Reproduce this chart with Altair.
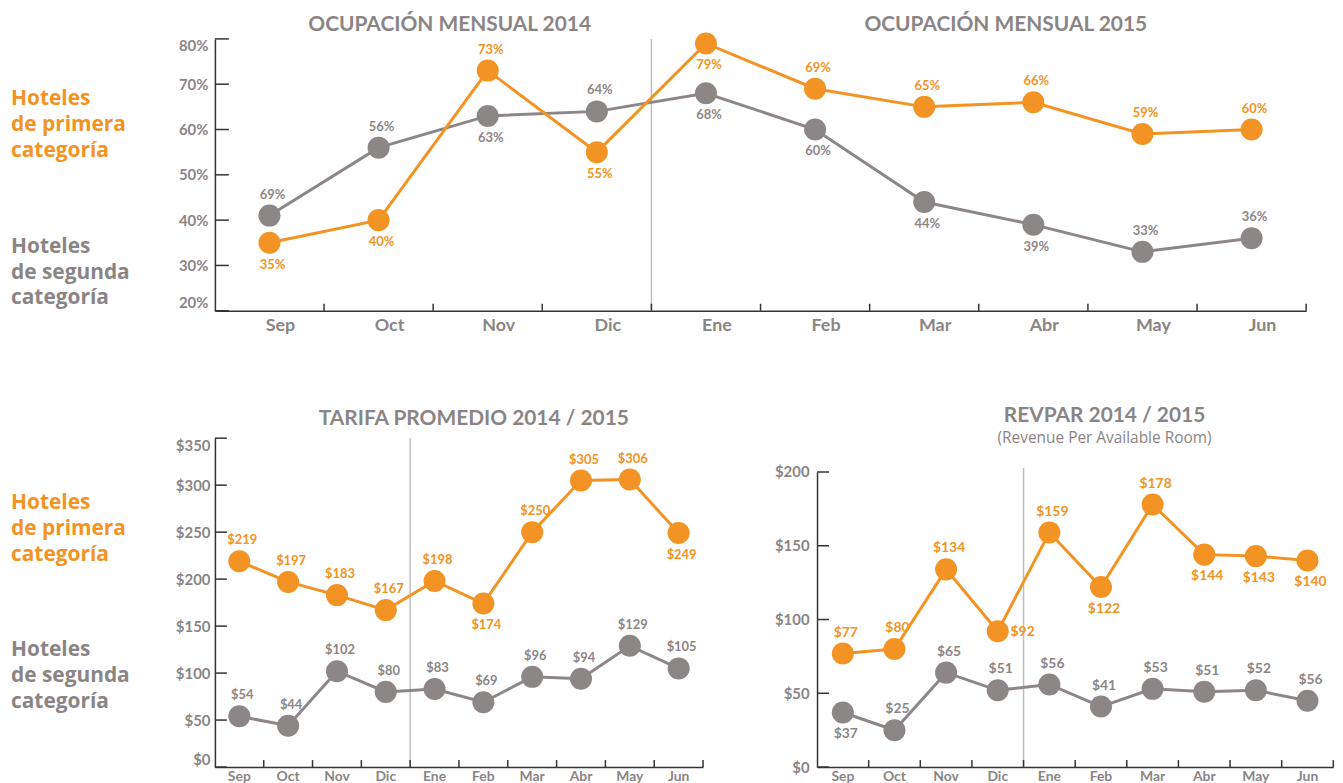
import altair as alt
import pandas as pd

# ---------------- data ----------------
meses = ["Sep", "Oct", "Nov", "Dic", "Ene", "Feb", "Mar", "Abr", "May", "Jun"]

# Ocupación mensual (%)
ocup_primera = [35, 40, 73, 55, 79, 69, 65, 66, 59, 60]
ocup_segunda = [41, 56, 63, 64, 68, 60, 44, 39, 33, 36]
ocup_primera_txt = ["35%", "40%", "73%", "55%", "79%", "69%", "65%", "66%", "59%", "60%"]
ocup_segunda_txt = ["69%", "56%", "63%", "64%", "68%", "60%", "44%", "39%", "33%", "36%"]
ocup_primera_pos = ["below", "below", "above", "below", "below", "above", "above", "above", "above", "above"]
ocup_segunda_pos = ["above", "above", "below", "above", "below", "below", "below", "below", "above", "above"]
ocup_ticks = [20, 30, 40, 50, 60, 70, 80]

# Tarifa promedio ($)
tarifa_primera = [219, 197, 183, 167, 198, 174, 250, 305, 306, 249]
tarifa_segunda = [54, 44, 102, 80, 83, 69, 96, 94, 129, 105]
tarifa_primera_txt = ["$219", "$197", "$183", "$167", "$198", "$174", "$250", "$305", "$306", "$249"]
tarifa_segunda_txt = ["$54", "$44", "$102", "$80", "$83", "$69", "$96", "$94", "$129", "$105"]
tarifa_primera_pos = ["above", "above", "above", "above", "above", "below", "above", "above", "above", "below"]
tarifa_segunda_pos = ["above"] * 10
tarifa_ticks = [0, 50, 100, 150, 200, 250, 300, 350]

# RevPAR ($)
revpar_primera = [77, 80, 134, 92, 159, 122, 178, 144, 143, 140]
revpar_segunda = [37, 25, 64, 52, 56, 41, 53, 51, 52, 45]
revpar_primera_txt = ["$77", "$80", "$134", "$92", "$159", "$122", "$178", "$144", "$143", "$140"]
revpar_segunda_txt = ["$37", "$25", "$65", "$51", "$56", "$41", "$53", "$51", "$52", "$56"]
revpar_primera_pos = ["above", "above", "above", "right", "above", "below", "above", "below", "below", "below"]
revpar_segunda_pos = ["below", "above", "above", "above", "above", "above", "above", "above", "above", "above"]
revpar_ticks = [0, 50, 100, 150, 200]

lado_primera = "Hoteles\nde primera\ncategoría"
lado_segunda = "Hoteles\nde segunda\ncategoría"

# ---------------- style ----------------
FONT = "Lato"
SIDE_FONT = "Open Sans"
ORANGE = "#F39323"
GRAY = "#8C8687"
TXT = "#8A8585"
AX = "#333333"
SEP = "#BDBDBD"


def make_df(prim, seg, ptxt, stxt, ppos, spos):
    rows = []
    for i, m in enumerate(meses):
        rows.append(dict(mes=m, serie="segunda", valor=seg[i], etiqueta=stxt[i], pos=spos[i]))
    for i, m in enumerate(meses):
        rows.append(dict(mes=m, serie="primera", valor=prim[i], etiqueta=ptxt[i], pos=ppos[i]))
    return pd.DataFrame(rows)


def text_chart(txt, x, y, size, color, weight="bold", align="center", line_height=None, font=FONT):
    kw = dict(font=font, fontSize=size, fontWeight=weight, color=color, align=align, baseline="middle")
    if line_height:
        kw.update(lineBreak="\n", lineHeight=line_height)
    return alt.Chart(pd.DataFrame({"t": [txt]})).mark_text(**kw).encode(
        text="t:N", x=alt.value(x), y=alt.value(y)
    )


def panel(df, ticks, domain, width, height, yfmt, xlab_size, ylab_size, xlab_pad, ylab_pad,
          xlab_offset, lab_size, flush, ytick_len, yrange=None, sep_top=0):
    xscale = alt.Scale(type="band", paddingInner=0, paddingOuter=0, domain=meses)
    yscale_kw = dict(domain=domain, nice=False, zero=False)
    if yrange is not None:
        yscale_kw["range"] = yrange
    yscale = alt.Scale(**yscale_kw)
    x_axis = alt.Axis(title=None, ticks=False, tickSize=0, grid=False, domainColor=AX, domainWidth=1.5,
                      labelFont=FONT, labelFontSize=xlab_size, labelFontWeight="bold", labelColor=TXT,
                      labelPadding=xlab_pad, labelOffset=xlab_offset, labelAngle=0)
    y_axis = alt.Axis(title=None, ticks=False, tickSize=0, grid=False, domainColor=AX, domainWidth=1.5,
                      values=ticks, labelExpr=yfmt, labelFont=FONT, labelFontSize=ylab_size,
                      labelFontWeight="bold", labelColor=TXT, labelPadding=ylab_pad, labelFlush=flush)
    X = alt.X("mes:N", sort=meses, scale=xscale, axis=x_axis)
    Y = alt.Y("valor:Q", scale=yscale, axis=y_axis)
    color = alt.Color("serie:N", scale=alt.Scale(domain=["primera", "segunda"], range=[ORANGE, GRAY]),
                      legend=None)

    base = alt.Chart(df)
    layers = []
    # separator between 2014 and 2015
    layers.append(
        alt.Chart(pd.DataFrame({"mes": ["Ene"]})).mark_rule(color=SEP, strokeWidth=1.5).encode(
            x=alt.X("mes:N", sort=meses, scale=xscale, axis=x_axis, bandPosition=0),
            y=alt.value(sep_top), y2=alt.value(height))
    )
    # inward ticks
    layers.append(
        alt.Chart(pd.DataFrame({"mes": meses})).mark_rule(color=AX, strokeWidth=1.5).encode(
            x=alt.X("mes:N", sort=meses, scale=xscale, axis=x_axis, bandPosition=1),
            y=alt.value(height - 7), y2=alt.value(height))
    )
    layers.append(
        alt.Chart(pd.DataFrame({"valor": ticks})).mark_rule(color=AX, strokeWidth=1.5).encode(
            y=Y, x=alt.value(0), x2=alt.value(ytick_len))
    )
    for s in ["segunda", "primera"]:
        layers.append(base.transform_filter(alt.datum.serie == s).mark_line(strokeWidth=3).encode(
            x=X, y=Y, color=color))
    for s in ["segunda", "primera"]:
        layers.append(base.transform_filter(alt.datum.serie == s).mark_circle(size=490, opacity=1).encode(
            x=X, y=Y, color=color))
    for pos, dx, dy in [("above", 3, -21), ("below", 3, 22), ("right", 25, 1)]:
        layers.append(base.transform_filter(alt.datum.pos == pos).mark_text(
            font=FONT, fontSize=lab_size, fontWeight="bold", dx=dx, dy=dy, baseline="middle").encode(
            x=X, y=Y, text="etiqueta:N", color=color))
    return layers


# ---------------- top: ocupación ----------------
TOP_W, TOP_H = 1097, 273.3
top_layers = panel(
    make_df(ocup_primera, ocup_segunda, ocup_primera_txt, ocup_segunda_txt, ocup_primera_pos, ocup_segunda_pos),
    ocup_ticks, [20, 80], TOP_W, TOP_H, "datum.value + '%'",
    xlab_size=18, ylab_size=15, xlab_pad=6, ylab_pad=7, xlab_offset=11, lab_size=13,
    flush=True, ytick_len=14)
top_layers += [
    text_chart("OCUPACIÓN MENSUAL 2014", 236, -14.3, 21, TXT),
    text_chart("OCUPACIÓN MENSUAL 2015", 795, -14.3, 21, TXT),
    text_chart(lado_primera, -205, 60.7, 21, ORANGE, align="left", line_height=26, font=SIDE_FONT),
    text_chart(lado_segunda, -205, 209, 21, TXT, align="left", line_height=26, font=SIDE_FONT),
]
top = alt.layer(*top_layers).properties(width=TOP_W, height=TOP_H)

# ---------------- bottom left: tarifa ----------------
B_W, B_H = 490.7, 330.6
b_layers = panel(
    make_df(tarifa_primera, tarifa_segunda, tarifa_primera_txt, tarifa_segunda_txt,
            tarifa_primera_pos, tarifa_segunda_pos),
    tarifa_ticks, [0, 350], B_W, B_H, "'$' + datum.value",
    xlab_size=14, ylab_size=15, xlab_pad=3, ylab_pad=5, xlab_offset=0, lab_size=13,
    flush=True, ytick_len=12)
b_layers += [
    text_chart("TARIFA PROMEDIO 2014 / 2015", 260.3, -19.4, 21, TXT),
    text_chart(lado_primera, -205, 65.3, 21, ORANGE, align="left", line_height=26, font=SIDE_FONT),
    text_chart(lado_segunda, -205, 213.3, 21, TXT, align="left", line_height=26, font=SIDE_FONT),
]
tarifa = alt.layer(*b_layers).properties(width=B_W, height=B_H)

# ---------------- bottom right: revpar ----------------
C_W, C_H = 519, 330.6
c_layers = panel(
    make_df(revpar_primera, revpar_segunda, revpar_primera_txt, revpar_segunda_txt,
            revpar_primera_pos, revpar_segunda_pos),
    revpar_ticks, [0, 200], C_W, C_H, "'$' + datum.value",
    xlab_size=14, ylab_size=15, xlab_pad=3, ylab_pad=8, xlab_offset=0, lab_size=14,
    flush=False, ytick_len=12, yrange=[C_H, 34], sep_top=30)
c_layers += [
    text_chart("REVPAR 2014 / 2015", 289, -22.7, 21, TXT),
    text_chart("(Revenue Per Available Room)", 289, 0, 15.5, TXT, weight="normal", font=SIDE_FONT),
]
revpar = alt.layer(*c_layers).properties(width=C_W, height=C_H)

bottom = alt.hconcat(tarifa, revpar, spacing=114.3, bounds="flush")
chart = alt.vconcat(top, bottom, spacing=127.4, bounds="flush").properties(
    padding={"left": 3, "top": 3, "right": 0, "bottom": 0}
).configure(
    font=FONT,
    view=alt.ViewConfig(stroke="transparent", strokeWidth=0),
)

chart.save("out.html", embed_options={"renderer": "svg", "actions": False})
